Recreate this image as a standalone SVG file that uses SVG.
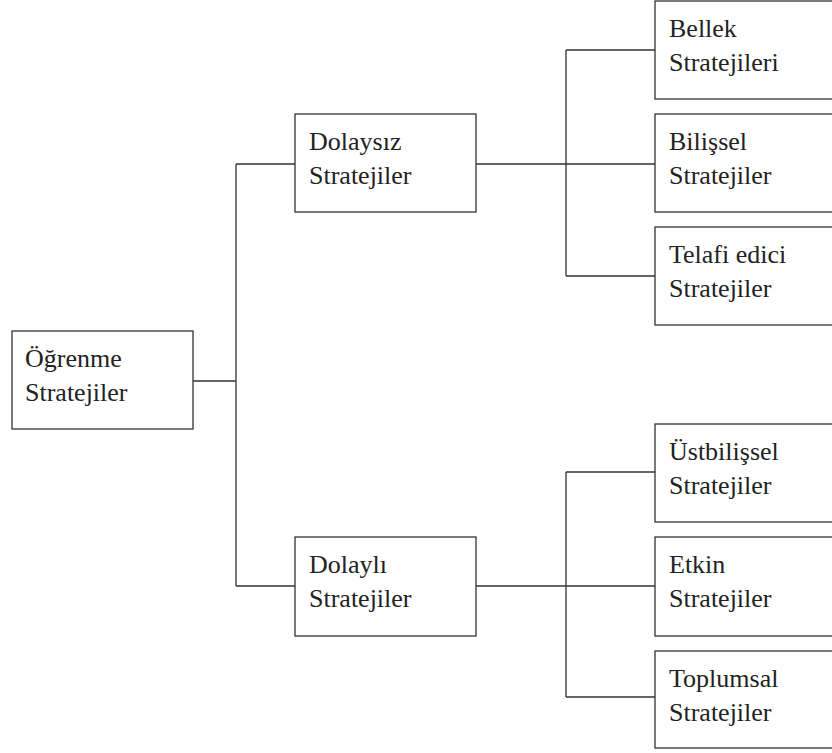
<svg xmlns="http://www.w3.org/2000/svg" width="832" height="753" viewBox="0 0 832 753">
<style>
.box{fill:#fff;stroke:#333;stroke-width:1.3}
.ln{fill:none;stroke:#333;stroke-width:1.3}
.t{font-family:"Liberation Serif","Times New Roman",serif;font-size:26px;fill:#222}
</style>
<rect width="832" height="753" fill="#fff"/>
<g id="connectors">
<path class="ln" d="M193 381H236M236 164V586M236 164H295M236 586H295"/>
<path class="ln" d="M476 164H655M566 50V276M566 50H655M566 276H655"/>
<path class="ln" d="M476 586H655M566 472V697M566 472H655M566 697H655"/>
</g>
<g id="ogrenme"><rect class="box" x="12" y="331" width="181" height="98"/><text class="t" x="25" y="367">Öğrenme</text><text class="t" x="25" y="401">Stratejiler</text></g>
<g id="dolaysiz"><rect class="box" x="295" y="114" width="181" height="98"/><text class="t" x="309" y="150">Dolaysız</text><text class="t" x="309" y="184">Stratejiler</text></g>
<g id="dolayli"><rect class="box" x="295" y="537" width="181" height="99"/><text class="t" x="309" y="573">Dolaylı</text><text class="t" x="309" y="607">Stratejiler</text></g>
<g id="bellek"><rect class="box" x="655" y="1" width="190" height="98"/><text class="t" x="669" y="37">Bellek</text><text class="t" x="669" y="71">Stratejileri</text></g>
<g id="bilissel"><rect class="box" x="655" y="114" width="190" height="98"/><text class="t" x="669" y="150">Bilişsel</text><text class="t" x="669" y="184">Stratejiler</text></g>
<g id="telafi"><rect class="box" x="655" y="227" width="190" height="98"/><text class="t" x="669" y="263">Telafi edici</text><text class="t" x="669" y="297">Stratejiler</text></g>
<g id="ustbilissel"><rect class="box" x="655" y="424" width="190" height="98"/><text class="t" x="669" y="460">Üstbilişsel</text><text class="t" x="669" y="494">Stratejiler</text></g>
<g id="etkin"><rect class="box" x="655" y="537" width="190" height="99"/><text class="t" x="669" y="573">Etkin</text><text class="t" x="669" y="607">Stratejiler</text></g>
<g id="toplumsal"><rect class="box" x="655" y="651" width="190" height="97"/><text class="t" x="669" y="687">Toplumsal</text><text class="t" x="669" y="721">Stratejiler</text></g>
</svg>
